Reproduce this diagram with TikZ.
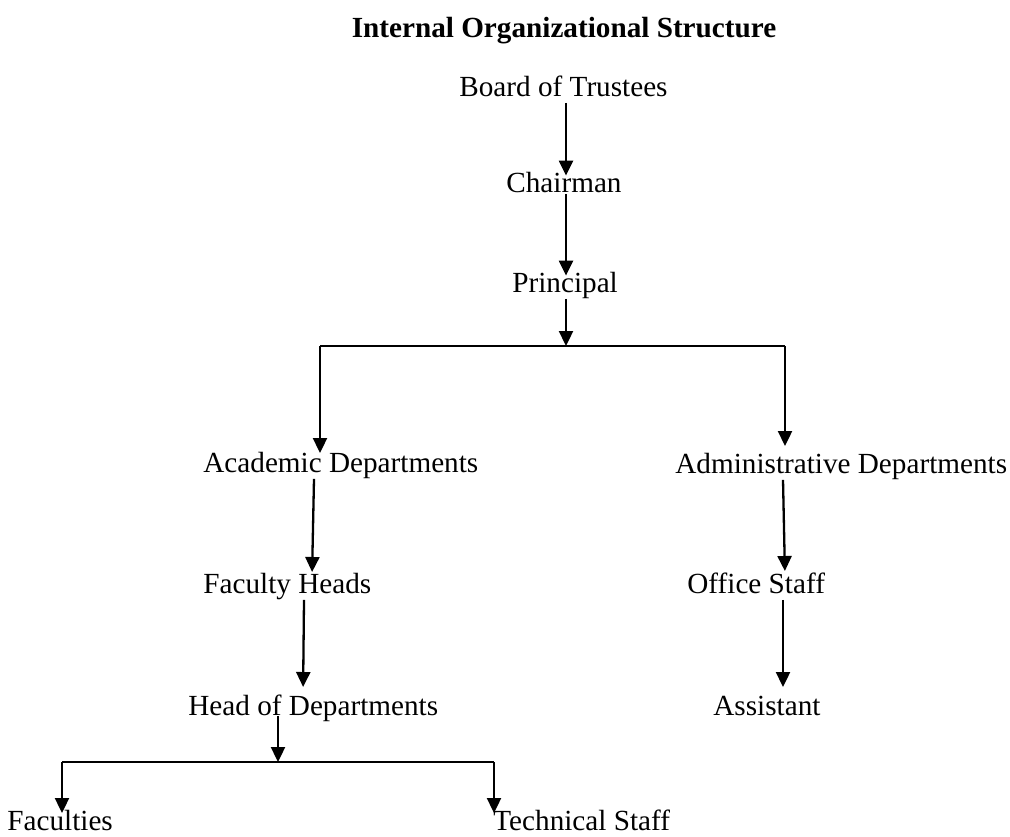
\documentclass[tikz,border=0pt]{standalone}
\usepackage{fontspec}
\setmainfont{Liberation Serif}
\usepackage{tikz}
\usetikzlibrary{arrows.meta, calc, positioning}

\newcommand{\orgfont}{\fontsize{14.6pt}{17pt}\selectfont}

\begin{document}
\begin{tikzpicture}[x=0.5pt, y=-0.5pt,
  every node/.style={inner xsep=0pt, inner ysep=1pt, text height=0.7em, text depth=0.22em, font=\orgfont, anchor=base west},
  arr/.style={line width=1.15pt, -{Triangle[width=7pt,length=7.5pt]}},
  bar/.style={line width=1.15pt}]
\useasboundingbox (0,0) rectangle (1010,836);
% title and positions
\node[anchor=base, font=\orgfont\bfseries] (title) at (564,37) {Internal Organizational Structure};
\node (board) at (459,96) {Board of Trustees};
\node (chair) at (506,192) {Chairman};
\node (princ) at (512,292) {Principal};
\node (acad) at (203,472) {Academic Departments};
\node (admin) at (675,473) {Administrative Departments};
\node (fhead) at (203,593) {Faculty Heads};
\node (office) at (687,593) {Office Staff};
\node (hod) at (188,715) {Head of Departments};
\node (asst) at (713,715) {Assistant};
\node (fac) at (7,830) {Faculties};
\node (tech) at (493,830) {Technical Staff};
% columns and junctions
\coordinate (cT) at (566,0);
\coordinate (cA1) at (314,0);
\coordinate (cA2) at (312,0);
\coordinate (cB1) at (783,0);
\coordinate (cB2) at (785,0);
\coordinate (cF1) at (304,0);
\coordinate (cF2) at (303,0);
\coordinate (jP) at (566,346);
\coordinate (jL) at (320,346);
\coordinate (jR) at (785,346);
\coordinate (jH) at (278,762);
\coordinate (jHL) at (62,762);
\coordinate (jHR) at (494,762);
% top chain
\draw[arr] (board.south -| cT) -- (chair.north -| cT);
\draw[arr, shorten <=-2.5pt] (chair.south -| cT) -- (princ.north -| cT);
\draw[arr] (princ.south -| jP) -- (jP);
\draw[bar] (jL) -- (jR);
\draw[arr, shorten >=1.3pt] (jL) -- (acad.north -| jL);
\draw[arr, shorten >=5.3pt] (jR) -- (admin.north -| jR);
% academic side
\draw[arr, shorten >=2.3pt] (acad.south -| cA1) -- (fhead.north -| cA2);
\draw[arr, shorten >=5.8pt] (fhead.south -| cF1) -- (hod.north -| cF2);
\draw[arr, shorten <=-3pt] (hod.south -| jH) -- (jH);
\draw[bar] (jHL) -- (jHR);
\draw[arr, shorten >=0.3pt] (jHL) -- (fac.north -| jHL);
\draw[arr, shorten >=0.3pt] (jHR) -- (tech.north -| jHR);
% administrative side
\draw[arr, shorten >=2.8pt] (admin.south -| cB1) -- (office.north -| cB2);
\draw[arr, shorten >=5.8pt] (office.south -| cB1) -- (asst.north -| cB1);
\end{tikzpicture}
\end{document}
